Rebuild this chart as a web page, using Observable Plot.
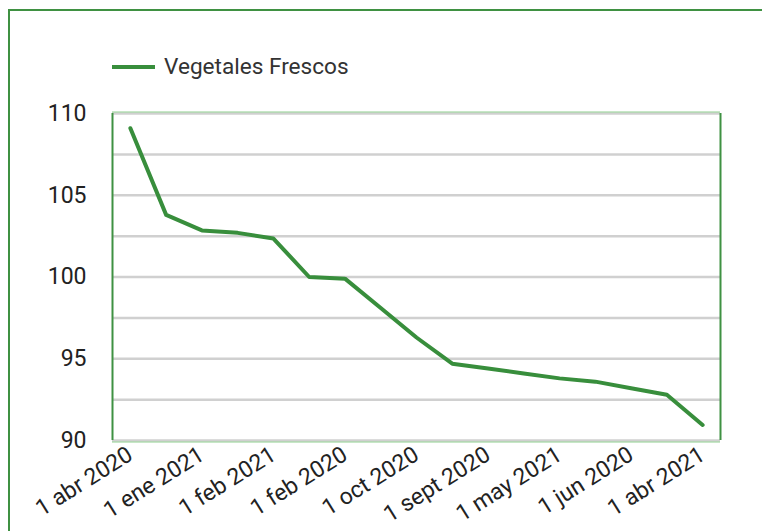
<!DOCTYPE html>
<html><head><meta charset="utf-8">
<script src="https://cdn.jsdelivr.net/npm/d3@7"></script>
<script src="https://cdn.jsdelivr.net/npm/@observablehq/plot@0.6"></script>
<style>
body{margin:0;background:#fff;overflow:hidden;font-family:Roboto,sans-serif}
#wrap{position:relative;width:762px;height:531px;overflow:hidden}
#border{position:absolute;left:8px;top:9px;width:900px;height:700px;border:2px solid #3f9142}
#legend{position:absolute;left:112px;top:53px;display:flex;align-items:center;font-size:22.6px;color:#333;font-family:Roboto,sans-serif}
#legend .sw{display:inline-block;width:43px;height:4px;background:#388e3c;margin-right:9px}
#chart{position:absolute;left:0;top:0}
</style></head><body>
<div id="wrap"><div id="border"></div><div id="chart"></div><div id="legend"><span class="sw"></span><span id="lname"></span></div></div>
<script>
const seriesName = "Vegetales Frescos";
const values = [109.1, 103.8, 102.85, 102.7, 102.35, 100.0, 99.9, 98.1, 96.3, 94.7, 94.4, 94.1, 93.8, 93.6, 93.2, 92.8, 90.95];
const tickLabels = ["1 abr 2020", "1 ene 2021", "1 feb 2021", "1 feb 2020", "1 oct 2020", "1 sept 2020", "1 may 2021", "1 jun 2020", "1 abr 2021"];
const tickIndex = [0, 2, 4, 6, 8, 10, 12, 14, 16];
const yTicks = [90, 95, 100, 105, 110];
const gridValues = [90, 92.5, 95, 97.5, 100, 102.5, 105, 107.5, 110];

document.getElementById("lname").textContent = seriesName;
const data = values.map((v, i) => ({i, v}));

const chart = Plot.plot({
  width: 762, height: 531,
  marginLeft: 112, marginRight: 42, marginTop: 113, marginBottom: 91,
  style: {fontFamily: "Roboto, sans-serif", fontSize: "22px", color: "#222", background: "transparent", overflow: "visible"},
  x: {type: "linear", domain: [-0.5, 16.5], label: null},
  y: {domain: [90, 110], label: null},
  marks: [
    Plot.ruleY(gridValues, {stroke: "#d0d0d0", strokeWidth: 2.5}),
    Plot.ruleY([110], {stroke: "#8fcf8f", strokeWidth: 1, dy: -1.5}),
    Plot.ruleY([90], {stroke: "#8fcf8f", strokeWidth: 1, dy: 1.5}),
    Plot.ruleX([-0.5, 16.5], {stroke: "#3f9142", strokeWidth: 2}),
    Plot.line(data, {x: "i", y: "v", stroke: "#388e3c", strokeWidth: 4}),
    Plot.axisY(yTicks, {tickSize: 0, tickPadding: 26, fontSize: 23, label: null}),
    Plot.axisX(tickIndex, {tickSize: 0, tickRotate: -32, tickPadding: 12, fontSize: 23, label: null,
      tickFormat: d => tickLabels[tickIndex.indexOf(d)]})
  ]
});
document.getElementById("chart").appendChild(chart);
</script>
</body></html>
